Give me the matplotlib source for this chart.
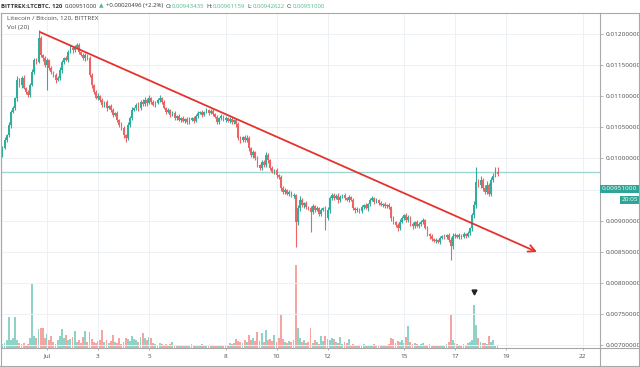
import matplotlib
matplotlib.use("Agg")
import matplotlib.pyplot as plt
import matplotlib.dates as mdates
import matplotlib.transforms as mtransforms
from matplotlib.lines import Line2D
import numpy as np
import pandas as pd

plt.rcParams['font.family'] = ['Open Sans', 'DejaVu Sans']

# LTC/BTC 2h candles, prices in 1e-5 BTC (one row = one day of 12 candles)
closes = [
    1017, 1030, 1038, 1054, 1075, 1081, 1097, 1126, 1118, 1129, 1113, 1107,
    1102, 1118, 1139, 1158, 1155, 1194, 1166, 1161, 1150, 1158, 1145, 1139,
    1134, 1126, 1129, 1142, 1155, 1161, 1158, 1171, 1178, 1174, 1179, 1182,
    1171, 1166, 1161, 1166, 1161, 1134, 1118, 1107, 1097, 1100, 1094, 1086,
    1091, 1081, 1084, 1078, 1070, 1073, 1062, 1054, 1049, 1038, 1033, 1054,
    1065, 1078, 1081, 1086, 1081, 1091, 1087, 1094, 1089, 1097, 1091, 1086,
    1089, 1094, 1097, 1091, 1081, 1075, 1078, 1070, 1073, 1065, 1068, 1062,
    1065, 1060, 1063, 1058, 1062, 1065, 1060, 1068, 1073, 1075, 1070, 1075,
    1078, 1073, 1076, 1071, 1067, 1058, 1065, 1068, 1062, 1065, 1060, 1063,
    1058, 1062, 1055, 1033, 1030, 1034, 1030, 1033, 1017, 1005, 1010, 1001,
    989, 985, 994, 989, 1005, 997, 985, 978, 981, 973, 970, 952,
    946, 949, 943, 946, 940, 941, 898, 920, 933, 925, 928, 922,
    920, 914, 923, 917, 920, 911, 917, 920, 904, 917, 936, 941,
    936, 940, 933, 938, 941, 936, 933, 938, 933, 920, 917, 919,
    915, 922, 925, 920, 927, 933, 936, 930, 933, 928, 925, 927,
    923, 925, 922, 904, 898, 893, 888, 898, 904, 909, 901, 906,
    895, 891, 898, 891, 895, 898, 901, 888, 878, 875, 870, 867,
    869, 866, 872, 875, 874, 877, 869, 859, 875, 877, 874, 877,
    874, 878, 875, 880, 888, 909, 925, 962, 957, 965, 952, 946,
    957, 943, 965, 972, 978, 975,
]
first_open = 1005

up_wick = [
    3, 4, 2, 5, 3, 4, 2, 6, 4, 3, 5, 2,
    3, 4, 5, 3, 4, 12, 3, 2, 4, 3, 2, 3,
    2, 3, 4, 5, 3, 2, 4, 3, 5, 2, 3, 4,
    3, 2, 4, 3, 2, 3, 4, 2, 3, 5, 2, 3,
    2, 3, 2, 4, 3, 2, 3, 2, 4, 3, 2, 5,
    3, 4, 2, 3, 4, 3, 5, 4, 3, 5, 2, 3,
    4, 3, 5, 2, 3, 2, 3, 2, 4, 3, 2, 3,
    2, 3, 2, 3, 4, 2, 3, 4, 3, 2, 3, 2,
    3, 2, 4, 3, 2, 3, 2, 3, 2, 3, 2, 3,
    3, 2, 3, 4, 3, 2, 3, 4, 3, 2, 3, 2,
    3, 2, 4, 3, 5, 3, 2, 3, 2, 3, 2, 3,
    3, 4, 2, 3, 2, 3, 2, 5, 6, 3, 2, 3,
    2, 3, 4, 2, 3, 2, 3, 2, 3, 5, 4, 3,
    3, 2, 4, 3, 2, 3, 2, 3, 2, 3, 2, 3,
    2, 3, 2, 3, 2, 3, 4, 2, 3, 2, 3, 2,
    3, 2, 3, 2, 3, 2, 3, 4, 3, 2, 4, 3,
    2, 3, 2, 3, 2, 3, 4, 2, 3, 2, 3, 2,
    3, 2, 3, 2, 3, 2, 3, 4, 5, 3, 2, 3,
    2, 3, 2, 3, 2, 4, 6, 24, 5, 6, 4, 5,
    6, 4, 5, 4, 8, 8,
]
dn_wick = [
    3, 2, 4, 3, 5, 2, 3, 4, 3, 5, 2, 3,
    4, 3, 2, 4, 3, 2, 3, 4, 3, 40, 3, 4,
    3, 4, 2, 3, 4, 3, 2, 3, 2, 4, 3, 2,
    3, 2, 3, 4, 2, 3, 4, 3, 2, 3, 4, 3,
    3, 4, 2, 3, 4, 2, 3, 4, 3, 5, 7, 3,
    4, 3, 2, 3, 4, 3, 2, 3, 4, 2, 3, 2,
    3, 2, 3, 4, 2, 3, 2, 3, 2, 3, 4, 2,
    3, 2, 3, 2, 3, 2, 3, 2, 3, 2, 3, 2,
    2, 3, 2, 3, 2, 3, 2, 3, 2, 3, 2, 3,
    3, 2, 4, 3, 5, 3, 4, 3, 5, 3, 4, 3,
    3, 4, 3, 2, 3, 4, 3, 2, 3, 4, 3, 5,
    4, 3, 2, 3, 2, 4, 41, 5, 4, 3, 4, 3,
    3, 32, 4, 3, 2, 4, 3, 2, 19, 3, 4, 3,
    3, 2, 4, 3, 2, 3, 2, 3, 2, 3, 4, 3,
    3, 2, 3, 2, 4, 3, 2, 3, 2, 3, 2, 3,
    3, 2, 3, 5, 4, 3, 4, 3, 2, 3, 4, 3,
    3, 4, 3, 2, 3, 4, 3, 2, 3, 4, 3, 2,
    3, 2, 3, 2, 3, 4, 3, 22, 4, 3, 2, 3,
    3, 2, 3, 2, 3, 4, 5, 4, 3, 4, 5, 3,
    4, 3, 4, 3, 2, 3,
]

# volume, thousand LTC
volume = [
    4, 5, 8, 30, 8, 10, 30, 8, 5, 4, 5, 3,
    4, 10, 63, 12, 10, 19, 20, 20, 10, 14, 8, 12,
    6, 4, 8, 12, 19, 10, 13, 8, 9, 11, 17, 6,
    8, 5, 11, 17, 6, 16, 9, 6, 5, 7, 8, 18,
    6, 8, 5, 7, 13, 6, 5, 10, 4, 6, 10, 9,
    7, 12, 9, 8, 6, 11, 15, 10, 8, 11, 10, 5,
    4, 3, 5, 4, 3, 4, 3, 4, 6, 3, 2, 3,
    2, 3, 2, 3, 2, 4, 2, 3, 2, 3, 4, 2,
    2, 2, 3, 2, 2, 3, 2, 3, 2, 2, 3, 5,
    4, 5, 9, 7, 6, 5, 8, 6, 13, 8, 10, 7,
    16, 7, 15, 6, 18, 8, 9, 7, 13, 6, 10, 33,
    9, 6, 5, 7, 6, 8, 81, 20, 10, 6, 8, 5,
    6, 20, 5, 8, 6, 4, 12, 7, 12, 9, 8, 10,
    9, 6, 5, 11, 4, 6, 5, 9, 3, 4, 3, 2,
    3, 2, 4, 3, 2, 3, 2, 4, 3, 2, 3, 2,
    3, 2, 4, 10, 9, 5, 7, 6, 8, 5, 11, 21,
    6, 4, 5, 4, 3, 4, 5, 3, 3, 4, 3, 2,
    3, 2, 3, 2, 3, 4, 6, 32, 8, 5, 4, 3,
    3, 4, 3, 5, 6, 8, 42, 22, 10, 6, 5, 5,
    4, 12, 6, 8, 2, 3,
]

trend_dates = ['2019-06-30 17:24', '2019-07-20 05:15']
trend_prices = [0.012032, 0.008495]
resistance = 0.00978
last_price = 0.00951

xtick_dates = ['2019-07-01', '2019-07-03', '2019-07-05', '2019-07-08', '2019-07-10',
               '2019-07-12', '2019-07-15', '2019-07-17', '2019-07-19', '2019-07-22']
xtick_labels = ['Jul', '3', '5', '8', '10', '12', '15', '17', '19', '22']
ytick_values = [0.007, 0.0075, 0.008, 0.0085, 0.009, 0.0095, 0.010, 0.0105, 0.011, 0.0115, 0.012]

UP = '#2fae9c'
DOWN = '#ec6464'
UP_VOL = '#8fd3c8'
DOWN_VOL = '#f5a4a1'
GRID = '#edf1f5'
FRAME = '#a8a8a8'
TXT = '#4a4a4a'

times = pd.date_range('2019-06-29 06:00', periods=len(closes), freq='2h')
t = mdates.date2num(times)
c = np.array(closes) / 1e5
o = np.array([first_open] + closes[:-1]) / 1e5
hi = np.maximum(o, c) + np.array(up_wick) / 1e5
lo = np.minimum(o, c) - np.array(dn_wick) / 1e5
rising = c >= o
cols = np.where(rising, UP, DOWN)
vcols = np.where(rising, UP_VOL, DOWN_VOL)

fig = plt.figure(figsize=(6.4, 3.67), dpi=100)
ax = fig.add_axes([1 / 640, 19 / 367, 599 / 640, 335 / 367])
axv = ax.twinx()
ax.set_zorder(axv.get_zorder() + 1)
ax.patch.set_visible(False)

# volume
axv.bar(t, volume, width=0.072, color=vcols, linewidth=0)
axv.set_ylim(0, 327)
axv.set_yticks([])
for s in axv.spines.values():
    s.set_visible(False)
mark = mtransforms.offset_copy(axv.transData, fig=fig, x=0, y=13, units='dots')
axv.plot(t[222], volume[222], marker='v', color='#222222', markersize=3.5, transform=mark)

# candles
ax.vlines(t, lo, hi, colors=cols, linewidth=0.8, zorder=3)
ax.bar(t, np.maximum(np.abs(c - o), 0.000015), bottom=np.minimum(o, c), width=0.065,
       color=cols, linewidth=0, zorder=4)

ax.axhline(resistance, color='#9fd6d2', linewidth=1, zorder=2)
td = mdates.date2num(pd.to_datetime(trend_dates))
ax.annotate('', xy=(td[1], trend_prices[1]), xytext=(td[0], trend_prices[0]),
            arrowprops=dict(arrowstyle='->,head_length=0.5,head_width=0.25', color='#e5322d',
                            lw=1.3, shrinkA=0, shrinkB=0), zorder=5, annotation_clip=False)

ax.set_ylim(0.006952, 0.012338)
ax.set_xlim(mdates.date2num(pd.Timestamp('2019-06-29 04:42')),
            mdates.date2num(pd.Timestamp('2019-07-22 16:28')))
ax.yaxis.tick_right()
ax.set_yticks(ytick_values)
# the 0.0095 label sits under the last-price tag, as on the original scale
ax.set_yticklabels(['' if abs(v - last_price) < 0.0002 else f'{v:.8f}' for v in ytick_values])
ax.set_xticks(mdates.date2num(pd.to_datetime(xtick_dates)))
ax.set_xticklabels(xtick_labels)
ax.tick_params(axis='y', length=2.2, width=0.6, colors=FRAME, labelcolor=TXT, labelsize=4.6, pad=1.5)
ax.tick_params(axis='x', length=1.5, width=0.6, colors=FRAME, labelcolor=TXT, labelsize=4.6, pad=2.5)
ax.grid(True, color=GRID, linewidth=0.7, zorder=0)
ax.set_axisbelow(True)
for s in ax.spines.values():
    s.set_color(FRAME)
    s.set_linewidth(0.8)

ax.text(0.01, 0.985, 'Litecoin / Bitcoin, 120, BITTREX', transform=ax.transAxes,
        fontsize=4.6, color=TXT, va='center', ha='left')
ax.text(0.01, 0.958, 'Vol (20)', transform=ax.transAxes,
        fontsize=4.6, color=TXT, va='center', ha='left')

# last price labels on the price scale
ax.annotate(f'{last_price:.8f}', xy=(1.0, last_price), xycoords=('axes fraction', 'data'),
            xytext=(2, 0), textcoords='offset pixels', fontsize=4.6, color='white',
            va='center', ha='left', annotation_clip=False, zorder=10,
            bbox=dict(boxstyle='square,pad=0.25', fc='#2ea596', ec='none'))
ax.annotate('20:05', xy=(1.0, last_price), xycoords=('axes fraction', 'data'),
            xytext=(38, -11), textcoords='offset pixels', fontsize=4.6, color='white',
            va='center', ha='right', annotation_clip=False, zorder=10,
            bbox=dict(boxstyle='square,pad=0.25', fc='#2ea596', ec='none'))

# outer frame
frame = dict(color=FRAME, linewidth=0.8, transform=fig.transFigure)
fig.add_artist(Line2D([0, 1], [1.5 / 367, 1.5 / 367], **frame))
fig.add_artist(Line2D([0.6 / 640, 0.6 / 640], [1.5 / 367, 354 / 367], **frame))
fig.add_artist(Line2D([639.4 / 640, 639.4 / 640], [1.5 / 367, 354 / 367], **frame))
fig.add_artist(Line2D([600 / 640, 600 / 640], [1.5 / 367, 19 / 367], **frame))
fig.add_artist(Line2D([600 / 640, 1], [354 / 367, 354 / 367], **frame))
fig.add_artist(Line2D([600 / 640, 1], [19 / 367, 19 / 367], **frame))

# header line
header = [('BITTREX:LTCBTC, 120', '#333333', 'bold'), ('0.00951000', '#333333', 'normal'),
          ('\u25b2', '#53b987', 'normal'), ('+0.00020496 (+2.2%)', '#333333', 'normal'),
          ('O:', '#333333', 'normal'), ('0.00943435', '#53b987', 'normal'),
          ('H:', '#333333', 'normal'), ('0.00961159', '#53b987', 'normal'),
          ('L:', '#333333', 'normal'), ('0.00942622', '#53b987', 'normal'),
          ('C:', '#333333', 'normal'), ('0.00951000', '#53b987', 'normal')]
renderer = fig.canvas.get_renderer()
xpos = 1.0
for txt, col, wt in header:
    tt = fig.text(xpos / 640, 1 - 6 / 367, txt, fontsize=4.3, color=col, fontweight=wt,
                  va='center', ha='left')
    w = tt.get_window_extent(renderer).width
    gap = 0.3 if txt.endswith(':') else 2.2
    xpos += w + gap

fig.savefig('out.png', dpi=100, facecolor='white')
